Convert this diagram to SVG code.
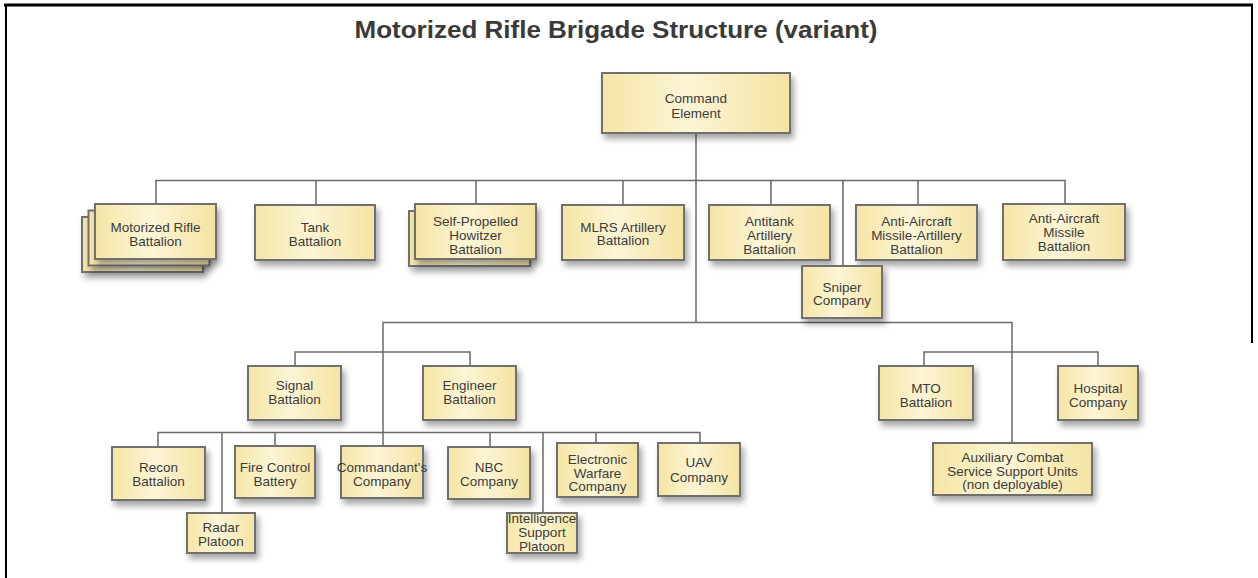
<svg xmlns="http://www.w3.org/2000/svg" width="1258" height="578" viewBox="0 0 1258 578">
<defs>
<linearGradient id="fill" x1="0" y1="0" x2="1" y2="0">
<stop offset="0" stop-color="#f5e5a4"/>
<stop offset="0.45" stop-color="#fcf5d6"/>
<stop offset="1" stop-color="#f4e3a2"/>
</linearGradient>
<filter id="sh" x="-20%" y="-20%" width="150%" height="170%">
<feDropShadow dx="3" dy="5" stdDeviation="3" flood-color="#000" flood-opacity="0.35"/>
</filter>
<style>
.box{fill:url(#fill);stroke:#707070;stroke-width:2;filter:url(#sh)}
.t{font-family:"Liberation Sans",Arial,sans-serif;font-size:13.5px;fill:#3c3c3c;text-anchor:middle}
.c{stroke:#6a6a6a;stroke-width:1.5;fill:none}
.frame{stroke:#000;fill:none}
.title{font-family:"Liberation Sans",Arial,sans-serif;font-size:23px;font-weight:bold;fill:#3a3a3a;text-anchor:middle}
</style>
</defs>
<rect width="1258" height="578" fill="#fff"/>
<g id="frame">
<line class="frame" x1="4" y1="5" x2="1253" y2="5" stroke-width="3"/>
<line class="frame" x1="6" y1="4" x2="6" y2="578" stroke-width="2"/>
<line class="frame" x1="1252" y1="4" x2="1252" y2="343" stroke-width="2"/>
</g>
<text id="title" class="title" x="616" y="38" textLength="523" lengthAdjust="spacingAndGlyphs">Motorized Rifle Brigade Structure (variant)</text>
<g id="connectors">
<path class="c" d="M696 133V322.5"/>
<path class="c" d="M156 204V180.5H1065V204"/>
<path class="c" d="M316 180.5V205M476 180.5V204M623 180.5V205M771 180.5V205M918 180.5V205M843 180.5V266"/>
<path class="c" d="M383 446V322.5H1012V443"/>
<path class="c" d="M295 366V352H470V366"/>
<path class="c" d="M924 366V352H1098V366"/>
<path class="c" d="M158 447V432.5H700V443"/>
<path class="c" d="M222 432.5V513M275 432.5V446M490 432.5V447M543 432.5V513M596 432.5V443"/>
</g>
<g id="n-command"><rect class="box" x="602" y="73" width="188" height="60"/><text class="t" x="696" y="103">Command</text><text class="t" x="696" y="117.5">Element</text></g>
<g id="n-motorized-rifle"><rect class="box" x="82" y="217" width="121" height="55"/><rect class="box" x="88.5" y="210.5" width="121" height="55"/><rect class="box" x="95" y="204" width="121" height="55"/><text class="t" x="155.5" y="232">Motorized Rifle</text><text class="t" x="155.5" y="246">Battalion</text></g>
<g id="n-tank"><rect class="box" x="255" y="205" width="120" height="55"/><text class="t" x="315" y="231.5">Tank</text><text class="t" x="315" y="245.5">Battalion</text></g>
<g id="n-sph"><rect class="box" x="409" y="211" width="121" height="55"/><rect class="box" x="415" y="204" width="121" height="55"/><text class="t" x="475.5" y="226">Self-Propelled</text><text class="t" x="475.5" y="240">Howitzer</text><text class="t" x="475.5" y="254">Battalion</text></g>
<g id="n-mlrs"><rect class="box" x="562" y="205" width="122" height="55"/><text class="t" x="623" y="231.5">MLRS Artillery</text><text class="t" x="623" y="245">Battalion</text></g>
<g id="n-antitank"><rect class="box" x="709" y="205" width="121" height="55"/><text class="t" x="769.5" y="226">Antitank</text><text class="t" x="769.5" y="240">Artillery</text><text class="t" x="769.5" y="254">Battalion</text></g>
<g id="n-aama"><rect class="box" x="856" y="205" width="121" height="55"/><text class="t" x="916.5" y="226">Anti-Aircraft</text><text class="t" x="916.5" y="240">Missile-Artillery</text><text class="t" x="916.5" y="254">Battalion</text></g>
<g id="n-aam"><rect class="box" x="1003" y="204" width="122" height="56"/><text class="t" x="1064" y="222.5">Anti-Aircraft</text><text class="t" x="1064" y="237">Missile</text><text class="t" x="1064" y="251">Battalion</text></g>
<g id="n-sniper"><rect class="box" x="802" y="266" width="80" height="52"/><text class="t" x="842" y="291.5">Sniper</text><text class="t" x="842" y="305">Company</text></g>
<g id="n-signal"><rect class="box" x="248" y="366" width="93" height="54"/><text class="t" x="294.5" y="390">Signal</text><text class="t" x="294.5" y="403.5">Battalion</text></g>
<g id="n-engineer"><rect class="box" x="423" y="366" width="93" height="54"/><text class="t" x="469.5" y="390">Engineer</text><text class="t" x="469.5" y="403.5">Battalion</text></g>
<g id="n-mto"><rect class="box" x="879" y="366" width="94" height="54"/><text class="t" x="926" y="392.5">MTO</text><text class="t" x="926" y="407">Battalion</text></g>
<g id="n-hospital"><rect class="box" x="1058" y="366" width="80" height="54"/><text class="t" x="1098" y="392.5">Hospital</text><text class="t" x="1098" y="407">Company</text></g>
<g id="n-aux"><rect class="box" x="933" y="443" width="159" height="52"/><text class="t" x="1012.5" y="461.5">Auxiliary Combat</text><text class="t" x="1012.5" y="475.5">Service Support Units</text><text class="t" x="1012.5" y="489">(non deployable)</text></g>
<g id="n-recon"><rect class="box" x="112" y="447" width="93" height="53"/><text class="t" x="158.5" y="471.5">Recon</text><text class="t" x="158.5" y="486">Battalion</text></g>
<g id="n-radar"><rect class="box" x="187" y="513" width="68" height="40"/><text class="t" x="221" y="532">Radar</text><text class="t" x="221" y="545.5">Platoon</text></g>
<g id="n-fire-control"><rect class="box" x="235" y="446" width="80" height="52"/><text class="t" x="275" y="471.5">Fire Control</text><text class="t" x="275" y="486">Battery</text></g>
<g id="n-commandant"><rect class="box" x="341" y="446" width="82" height="52"/><text class="t" x="382" y="471.5">Commandant's</text><text class="t" x="382" y="486">Company</text></g>
<g id="n-nbc"><rect class="box" x="448" y="447" width="82" height="52"/><text class="t" x="489" y="471.5">NBC</text><text class="t" x="489" y="486">Company</text></g>
<g id="n-intelligence"><rect class="box" x="507" y="513" width="70" height="40"/><text class="t" x="542" y="523">Intelligence</text><text class="t" x="542" y="537">Support</text><text class="t" x="542" y="551">Platoon</text></g>
<g id="n-ew"><rect class="box" x="557" y="443" width="81" height="54"/><text class="t" x="597.5" y="464">Electronic</text><text class="t" x="597.5" y="477.5">Warfare</text><text class="t" x="597.5" y="491">Company</text></g>
<g id="n-uav"><rect class="box" x="658" y="443" width="82" height="53"/><text class="t" x="699" y="466.5">UAV</text><text class="t" x="699" y="482">Company</text></g>
</svg>
